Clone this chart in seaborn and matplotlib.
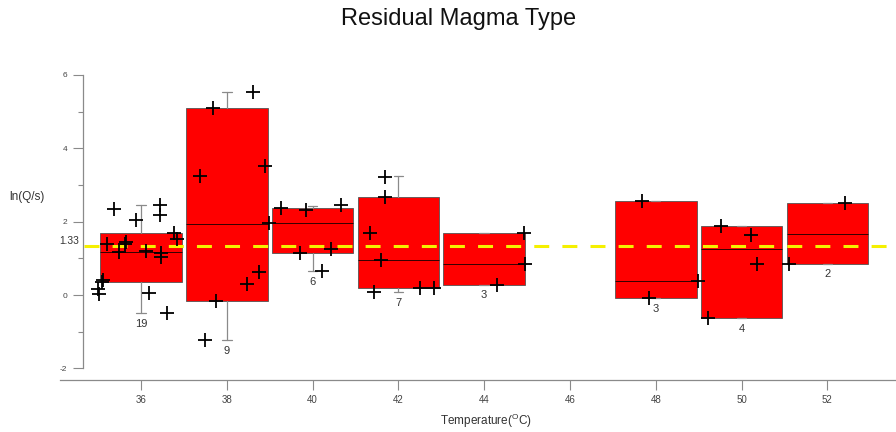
import matplotlib
matplotlib.use("Agg")
import matplotlib.pyplot as plt
import seaborn as sns
import pandas as pd

# ---- data ----
centers = [36, 38, 40, 42, 44, 48, 50, 52]
counts = [19, 9, 6, 7, 3, 3, 4, 2]
q1 = [0.35, -0.15, 1.15, 0.18, 0.28, -0.08, -0.63, 0.85]
med = [1.18, 1.93, 1.95, 0.95, 0.84, 0.37, 1.25, 1.67]
q3 = [1.69, 5.09, 2.37, 2.68, 1.68, 2.56, 1.87, 2.50]
whislo = [-0.49, -1.23, 0.65, 0.07, 0.28, -0.08, -0.63, 0.85]
whishi = [2.46, 5.54, 2.43, 3.23, 1.68, 2.56, 1.87, 2.50]

pt_temp = [34.99, 35.02, 35.09, 35.12, 35.20, 35.38, 35.49, 35.62, 35.64, 35.88,
           36.11, 36.19, 36.45, 36.44, 36.46, 36.47, 36.60, 36.77, 36.83,
           37.38, 37.69, 37.75, 37.49, 38.62, 38.89, 38.99, 38.46, 38.76,
           39.27, 39.70, 39.84, 40.21, 40.43, 40.67,
           41.69, 41.69, 41.34, 41.60, 41.44, 42.51, 42.82,
           44.92, 44.94, 44.31,
           47.69, 47.84, 48.98,
           49.21, 49.53, 50.22, 50.37,
           52.42, 51.11]
pt_val = [0.16, 0.02, 0.36, 0.41, 1.38, 2.34, 1.17, 1.40, 1.45, 2.04,
          1.19, 0.05, 2.46, 2.18, 1.14, 1.03, -0.50, 1.70, 1.52,
          3.23, 5.09, -0.15, -1.23, 5.54, 3.51, 1.97, 0.30, 0.62,
          2.38, 1.15, 2.32, 0.65, 1.25, 2.44,
          3.22, 2.68, 1.68, 0.95, 0.07, 0.18, 0.20,
          1.68, 0.84, 0.28,
          2.56, -0.08, 0.37,
          -0.64, 1.87, 1.64, 0.85,
          2.50, 0.85]

ref_value = 1.33
ref_label = "1.33"
title = "Residual Magma Type"
xlabel = "Temperature($^{\\mathregular{O}}$C)"
ylabel = "ln(Q/s)"
xticks = [36, 38, 40, 42, 44, 46, 48, 50, 52]
yticks = [-2, 0, 2, 4, 6]
yminor = [-1, 1, 3, 5]

# ---- style ----
sns.set_style("white")
plt.rcParams['font.family'] = ['Liberation Sans', 'DejaVu Sans']
plt.rcParams['axes.unicode_minus'] = False

fig = plt.figure(figsize=(8.96, 4.32), dpi=100)
ax = fig.add_axes([60 / 896, 52 / 432, 836 / 896, 323.5 / 432])
ax.set_xlim(34.112, 53.6)
ax.set_ylim(-2.316, 6.5)

stats = [dict(med=m, q1=a, q3=b, whislo=lo, whishi=hi, fliers=[])
         for m, a, b, lo, hi in zip(med, q1, q3, whislo, whishi)]
ax.bxp(stats, positions=centers, widths=1.9, patch_artist=True, showfliers=False,
       boxprops=dict(facecolor='#ff0000', edgecolor='#555555', linewidth=0.6),
       medianprops=dict(color='#330000', linewidth=0.7),
       whiskerprops=dict(color='#8a8a8a', linewidth=0.9),
       capprops=dict(color='#8a8a8a', linewidth=0.9),
       capwidths=0.22, manage_ticks=False, zorder=2)

spine_x = 34.655
ax.axhline(ref_value, xmin=(84 - 60) / 836, xmax=1.0, color='#f5f000',
           linewidth=2.2, dashes=(4.9, 4.3), zorder=3)

df = pd.DataFrame({'temp': pt_temp, 'val': pt_val})
sns.scatterplot(data=df, x='temp', y='val', marker='+', s=110, color='black',
                linewidth=1.3, ax=ax, zorder=4, legend=False)

for c, n, lo, b in zip(centers, counts, whislo, q1):
    ax.annotate(str(n), xy=(c, min(lo, b)), xytext=(0, -4), textcoords='offset points',
                ha='center', va='top', fontsize=8, color='#333333')

# spines
for s in ['top', 'right']:
    ax.spines[s].set_visible(False)
ax.spines['left'].set_position(('data', spine_x))
ax.spines['left'].set_bounds(-2, 6)
for s in ['left', 'bottom']:
    ax.spines[s].set_color('#8a8a8a')
    ax.spines[s].set_linewidth(0.9)

ax.set_xticks(xticks)
ax.set_yticks(yticks)
ax.set_yticks(yminor, minor=True)
ax.tick_params(axis='y', which='major', direction='out', length=7.2, width=0.8,
               color='#8a8a8a', labelsize=6, labelcolor='#444444', pad=4.3, left=True)
ax.tick_params(axis='y', which='minor', direction='out', length=3.6, width=0.8,
               color='#8a8a8a', left=True)
ax.tick_params(axis='x', which='major', direction='out', length=7.2, width=0.8,
               color='#8a8a8a', labelsize=7, labelcolor='#444444', pad=3.6, bottom=True)

ax.annotate(ref_label, xy=(spine_x, ref_value), xytext=(-2.9, 3.8),
            textcoords='offset points', ha='right', va='center',
            fontsize=7.4, color='#333333', annotation_clip=False)

ax.set_xlabel(xlabel, fontsize=8.5, color='#333333', va='center')
ax.xaxis.set_label_coords((486 - 60) / 836, -(421 - 380) / 323.5)
ax.set_ylabel(ylabel, fontsize=8.5, color='#333333', rotation=0, ha='center', va='center')
ax.yaxis.set_label_coords((27 - 60) / 836, (380 - 197) / 323.5)

fig.text(0.512, 0.956, title, fontsize=17, ha='center', va='center', color='#111111')

fig.savefig('out.png', dpi=100)
